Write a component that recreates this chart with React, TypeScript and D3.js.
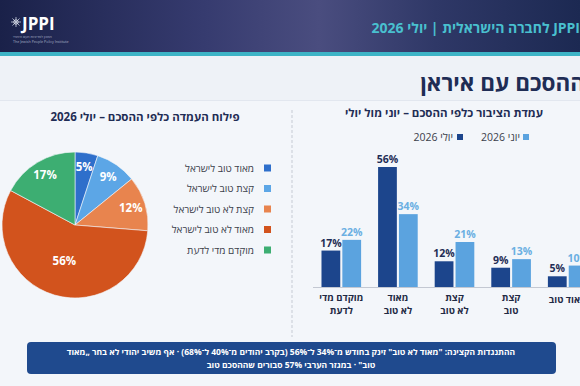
import React, { useEffect, useRef } from "react";
import * as d3 from "d3";

// bar chart: June vs July
const barCategories = ["מוקדם מדי לדעת", "מאוד לא טוב", "קצת לא טוב", "קצת טוב", "מאוד טוב"];
const barLabelLines = [["מוקדם מדי", "לדעת"], ["מאוד", "לא טוב"], ["קצת", "לא טוב"], ["קצת", "טוב"], ["מאוד טוב"]];
const seriesNames = ["יולי 2026", "יוני 2026"];
const julyValues = [17, 56, 12, 9, 5];
const juneValues = [22, 34, 21, 13, 10];

// pie: July breakdown
const pieLabels = ["מאוד טוב לישראל", "קצת טוב לישראל", "קצת לא טוב לישראל", "מאוד לא טוב לישראל", "מוקדם מדי לדעת"];
const pieValues = [5, 9, 12, 56, 17];
const pieColors = ["#2e6fcb", "#5ca6e6", "#e8844e", "#d2531d", "#3dae72"];

const noteLines = [
  "ההתנגדות הקצינה: \"מאוד לא טוב\" זינק בחודש מ־34% ל־56% (בקרב יהודים מ־40% ל־68%) · אף משיב יהודי לא בחר „מאוד",
  "טוב\" · במגזר הערבי 57% סבורים שההסכם טוב",
];

const W = 580;
const H = 386;
const FONT = "'Open Sans', 'DejaVu Sans', sans-serif";
const NAVY = "#1f2d55";

export default function App() {
  const ref = useRef<SVGSVGElement>(null);

  useEffect(() => {
    const svg = d3.select(ref.current);
    svg.selectAll("*").remove();

    // background
    svg.append("rect").attr("width", W).attr("height", H).attr("fill", "#f3f6fa");
    svg.append("rect").attr("y", 56).attr("width", W).attr("height", 44).attr("fill", "#eef2f7");
    svg.append("line").attr("x1", 0).attr("x2", W).attr("y1", 100.5).attr("y2", 100.5)
      .attr("stroke", "#e2e7ef");

    // header band
    const defs = svg.append("defs");
    const grad = defs.append("linearGradient").attr("id", "hdr");
    [["0", "#1a2149"], ["0.35", "#363b6f"], ["0.55", "#4a4d7f"], ["0.75", "#2f3867"], ["1", "#1c2952"]]
      .forEach(([o, c]) => grad.append("stop").attr("offset", o).attr("stop-color", c));
    svg.append("rect").attr("width", W).attr("height", 53).attr("fill", "url(#hdr)");
    svg.append("rect").attr("y", 52).attr("width", W).attr("height", 4).attr("fill", "#3db4c6");

    // logo
    const logo = svg.append("g").attr("transform", "translate(16,22)");
    d3.range(8).forEach(i => {
      const a = (i * Math.PI) / 4;
      logo.append("line").attr("x1", 0).attr("y1", 0)
        .attr("x2", Math.cos(a) * 5).attr("y2", Math.sin(a) * 5)
        .attr("stroke", "#c9cfe0").attr("stroke-width", 0.8);
    });
    logo.append("circle").attr("r", 2.2).attr("fill", "none").attr("stroke", "#e8ebf3").attr("stroke-width", 0.8);
    svg.append("text").attr("x", 22).attr("y", 30).text("JPPI")
      .attr("font-family", FONT).attr("font-weight", 700).attr("font-size", 17).attr("fill", "#fff");
    svg.append("text").attr("x", 13).attr("y", 38).text("המכון למדיניות העם היהודי")
      .attr("font-family", FONT).attr("font-size", 3.6).attr("fill", "#aab2c8");
    svg.append("text").attr("x", 13).attr("y", 42.5).text("The Jewish People Policy Institute")
      .attr("font-family", FONT).attr("font-size", 3.6).attr("fill", "#aab2c8");

    const rtl = (x: number, y: number, s: string, size: number, color: string, weight = 400, anchor = "start") =>
      svg.append("text").attr("x", x).attr("y", y).text(s)
        .attr("direction", "rtl").attr("text-anchor", anchor)
        .attr("font-family", FONT).attr("font-size", size)
        .attr("font-weight", weight).attr("fill", color);

    rtl(580, 33, "JPPI לחברה הישראלית | יולי 2026", 14, "#49c0cf", 700);
    rtl(585, 91, "ההסכם עם איראן", 22.5, NAVY, 700);

    // divider between panels
    svg.append("line").attr("x1", 292).attr("x2", 292).attr("y1", 110).attr("y2", 337)
      .attr("stroke", "#c6cbd4").attr("stroke-dasharray", "3,2");

    // ---- pie panel ----
    rtl(145, 121, "פילוח העמדה כלפי ההסכם – יולי 2026", 11.5, NAVY, 700, "middle");

    const cx = 75, cy = 225, R = 73;
    const pie = d3.pie<number>().sort(null)(pieValues);
    const arc = d3.arc<d3.PieArcDatum<number>>().innerRadius(0).outerRadius(R);
    const pg = svg.append("g").attr("transform", `translate(${cx},${cy})`);
    pg.selectAll("path").data(pie).join("path")
      .attr("d", arc)
      .attr("fill", (d, i) => pieColors[i])
      .attr("stroke", "#f3f6fa").attr("stroke-width", 0.6);
    pg.selectAll("text").data(pie).join("text")
      .attr("transform", d => {
        const r = R * (d.data > 30 ? 0.52 : 0.8);
        const a = (d.startAngle + d.endAngle) / 2;
        return `translate(${Math.sin(a) * r},${-Math.cos(a) * r})`;
      })
      .attr("dy", "0.35em").attr("text-anchor", "middle")
      .attr("font-family", FONT).attr("font-weight", 700).attr("font-size", 11.5)
      .attr("fill", "#fff")
      .text(d => `${d.data}%`);

    const legendY = d3.scalePoint(pieLabels, [168, 250]);
    pieLabels.forEach((lab, i) => {
      const y = legendY(lab)!;
      svg.append("rect").attr("x", 264).attr("y", y - 3.5).attr("width", 7).attr("height", 7)
        .attr("fill", pieColors[i]);
      rtl(254, y + 3.5, lab, 10, "#3b404b");
    });

    // ---- bar panel ----
    rtl(543, 117, "עמדת הציבור כלפי ההסכם – יוני מול יולי", 11.5, NAVY, 700);

    const seriesColors = ["#1c458c", "#5ba3df"];
    const labelColors = ["#1f2d55", "#6aafe2"];
    const legendItems = [{ sq: 457, tx: 453 }, { sq: 523, tx: 520 }];
    seriesNames.forEach((s, i) => {
      svg.append("rect").attr("x", legendItems[i].sq).attr("y", 134).attr("width", 6).attr("height", 6)
        .attr("fill", seriesColors[i]);
      rtl(legendItems[i].tx, 140.5, s, 10.5, "#3b404b");
    });

    const x0 = d3.scaleBand(barCategories, [313, 596]).paddingInner(0.3).paddingOuter(0.15);
    const x1 = d3.scaleBand(seriesNames, [0, x0.bandwidth()]).paddingInner(0.1);
    const y = d3.scaleLinear([0, 56], [287, 167]);

    const rows = barCategories.map((c, i) => ({ c, vals: [julyValues[i], juneValues[i]] }));
    const grp = svg.append("g").selectAll("g").data(rows).join("g")
      .attr("transform", d => `translate(${x0(d.c)},0)`);
    grp.selectAll("rect").data(d => d.vals).join("rect")
      .attr("x", (d, i) => x1(seriesNames[i])!)
      .attr("y", d => y(d))
      .attr("width", x1.bandwidth())
      .attr("height", d => y(0) - y(d))
      .attr("fill", (d, i) => seriesColors[i]);
    grp.selectAll("text").data(d => d.vals).join("text")
      .attr("x", (d, i) => x1(seriesNames[i])! + x1.bandwidth() / 2)
      .attr("y", d => y(d) - 4)
      .attr("text-anchor", "middle")
      .attr("font-family", FONT).attr("font-weight", 700).attr("font-size", 10.5)
      .attr("fill", (d, i) => labelColors[i])
      .text(d => `${d}%`);

    svg.append("line").attr("x1", 313).attr("x2", W).attr("y1", 287.5).attr("y2", 287.5)
      .attr("stroke", "#c3c8d2");

    barLabelLines.forEach((lines, i) => {
      const cxb = x0(barCategories[i])! + x0.bandwidth() / 2;
      lines.forEach((ln, j) => {
        const yy = lines.length === 1 ? 303 : 301 + j * 12.5;
        rtl(cxb, yy, ln, 9.5, "#1f2a44", 700, "middle");
      });
    });

    // ---- note box ----
    svg.append("rect").attr("x", 27).attr("y", 342).attr("width", 529).attr("height", 32)
      .attr("rx", 4).attr("fill", "#1f4a8e");
    noteLines.forEach((ln, i) => rtl(291, 355 + i * 12.5, ln, 8.5, "#fff", 700, "middle"));
  }, []);

  return (
    <svg ref={ref} width={W} height={H} viewBox={`0 0 ${W} ${H}`}
      style={{ position: "absolute", left: 0, top: 0, display: "block" }} />
  );
}
